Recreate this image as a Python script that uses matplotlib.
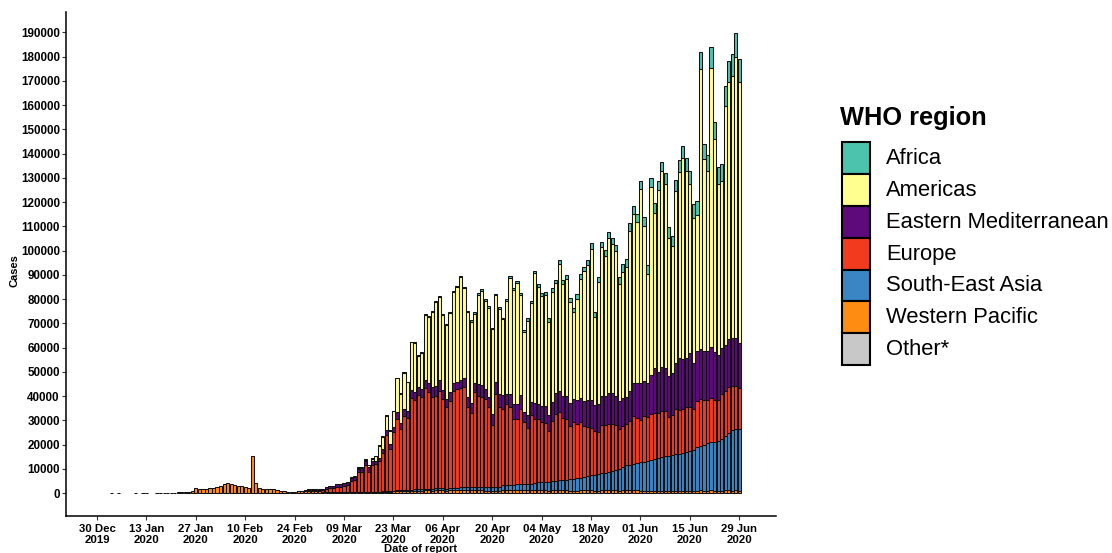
import numpy as np
import pandas as pd
import matplotlib
matplotlib.use("Agg")
import matplotlib.pyplot as plt
import matplotlib.dates as mdates
from matplotlib.patches import Rectangle

plt.rcParams['font.family'] = ['Liberation Sans', 'DejaVu Sans']

# ---------------- data: daily reported cases, 31 Dec 2019 .. 29 Jun 2020 ----------------
start_date = "2019-12-31"
n_days = 182

other_feb = [10, 0, 60, 0, 40, 0, 40, 40, 70, 90, 0, 80, 0, 80, 15, 50]
other = [0]*37 + other_feb + [0]*(182 - 37 - 16)

western_pacific = [
    0, 0, 0, 40, 0, 40, 0, 0, 0, 0,
    40, 0, 40, 40, 0, 0, 20, 20, 60, 80,
    150, 150, 260, 300, 400, 500, 700, 1900, 1500, 1600,
    1800, 1900, 2200, 2600, 3000, 3800, 4000, 3600, 3400, 2700,
    2900, 2600, 2200, 15200, 4100, 2200, 1800, 1800, 1700, 1600,
    1000, 1000, 1000, 500, 500, 500, 700, 800, 900, 1000,
    1000, 900, 700, 500, 600, 500, 400, 400, 300, 300,
    300, 300, 300, 300, 300, 400, 300, 400, 400, 500,
    500, 600, 600, 700, 800, 800, 900, 900, 1000, 1000,
    1000, 1000, 1100, 1100, 1000, 1100, 1200, 1200, 1000, 1100,
    1300, 1200, 1300, 1400, 1200, 1100, 1200, 1200, 1100, 1000,
    900, 800, 900, 800, 1300, 1300, 1300, 1200, 1200, 1200,
    1100, 1100, 1100, 1200, 1200, 1100, 1100, 1000, 1100, 1100,
    1200, 1100, 1100, 1000, 1000, 1000, 1100, 1100, 1100, 1100,
    1000, 1000, 1100, 1100, 1100, 1100, 1100, 1000, 1100, 1100,
    1100, 1100, 1100, 1000, 900, 900, 1000, 1000, 1000, 1000,
    1000, 900, 900, 1000, 1000, 1000, 1000, 1000, 900, 900,
    1100, 1000, 1000, 1100, 1000, 1000, 1000, 1100, 1100, 1000, 1100, 1000,
]

south_east_asia = [0]*76 + [
    100, 100, 100, 100, 200, 200, 200, 300, 300, 300, 400, 400, 400, 500,
    500, 600, 600, 700, 700, 800, 800, 900, 800, 900,
    1000, 1100, 1200, 1200, 1300, 1300, 1400, 1400, 1500, 1600,
    1600, 1700, 1800, 1900, 2000, 2100, 2200, 2300, 2400, 2500,
    2500, 2600, 2800, 3000, 3200, 3400, 3500, 3600, 3800, 4000,
    4200, 4300, 4500, 4700, 4900, 5100, 5300, 5500, 5800, 6200,
    6500, 6800, 7000, 7300, 7500, 8000, 8500, 9000, 9500, 10500,
    10500, 11000, 11500, 11800, 12000, 12300, 12600, 13000, 13500, 14000,
    14200, 14500, 14800, 15000, 15300, 15500, 15800, 16200, 16800, 18000,
    18500, 19000, 19500, 20000, 20000, 20500, 21500, 22500, 23500, 25000, 25500, 25500,
]

europe = [0]*56 + [
    100, 150, 250, 300, 400, 500, 600, 600, 1200, 1400, 1600, 2100, 2100, 2600,
    3000, 4800, 5000, 8300, 8500, 11000, 8500, 11000, 11300, 12500,
    16000, 23200, 17500, 24000, 29500, 25500, 30500, 29500, 38000, 37000,
    39000, 38000, 41500, 40000, 38000, 38000, 40000, 36500, 33500, 36000,
    40000, 40500, 41000, 41000, 33000, 30500, 39000, 37500, 37000, 36000,
    33000, 25500, 38000, 32800, 31200, 33300, 31800, 27000, 26900, 30800,
    25600, 23000, 28300, 26500, 26000, 25000, 24500, 21000, 25000, 27500,
    28000, 25500, 25000, 22000, 23500, 22500, 23000, 21000, 20500, 19500,
    18000, 17500, 20000, 19500, 20000, 19500, 18500, 16500, 17000, 17000,
    18000, 19500, 18500, 17500, 19000, 18000, 19000, 19000, 18500, 19000,
    18500, 16000, 16500, 18500, 18000, 18000, 18500, 18500, 17000, 19000,
    19000, 18500, 18000, 18000, 17500, 17000, 18500, 18500, 19000, 18000, 17500, 17000,
]

eastern_mediterranean = [0]*56 + [
    50, 100, 150, 200, 250, 300, 400, 500, 800, 900, 1000, 1100, 1200, 1100,
    1200, 1300, 1400, 1400, 1500, 1700, 1800, 1700, 1600, 1500,
    1300, 2000, 1800, 2200, 2800, 2500, 3000, 2900, 3000, 3300,
    3400, 3500, 3600, 3800, 4000, 4200, 4500, 3800, 3600, 3500,
    3200, 3200, 3300, 3800, 4000, 4200, 4000, 5000, 5000, 4500,
    4000, 4600, 5100, 5500, 6000, 4100, 5500, 6200, 6300, 6000,
    4100, 5600, 5200, 6500, 6200, 6500, 7000, 6800, 7500, 8800,
    8500, 9000, 9500, 9500, 9600, 9800, 10000, 10500, 11000, 11500,
    11000, 11500, 12000, 12000, 12500, 12500, 12000, 11500, 11500, 11000,
    12500, 14000, 14500, 15000, 14500, 14000, 16000, 18500, 17000, 18000,
    18000, 17000, 17500, 19000, 21500, 21000, 20500, 22000, 19000, 20500,
    21000, 20000, 20000, 21000, 19500, 18500, 19000, 19000, 20000, 20000, 20000, 18500,
]

americas = [0]*65 + [
    100, 100, 100, 100, 200,
    200, 300, 300, 500, 500, 700, 700, 1000, 1700, 5000,
    5300, 5800, 5700, 6500, 13900, 11900, 14900, 12000, 19800, 20200,
    12600, 14600, 26800, 27000, 30900, 34900, 34400, 31200, 30500, 32600,
    37300, 39000, 42300, 37100, 35000, 33600, 28400, 36700, 38800, 36300,
    36900, 35000, 35700, 35000, 31200, 38300, 47900, 47200, 49800, 41000,
    33100, 38700, 40800, 53400, 48300, 45200, 45600, 38300, 45700, 45100,
    52600, 46400, 48000, 41400, 35700, 41800, 48900, 53300, 55600, 62500,
    36000, 50200, 61200, 57800, 63900, 61500, 59600, 48400, 52200, 53700,
    66100, 69300, 66200, 79900, 63700, 45100, 77500, 64200, 74800, 80700,
    75900, 56900, 52000, 71000, 76700, 82600, 77000, 69800, 59800, 56300,
    115400, 79100, 74500, 115000, 88100, 70600, 68500, 98700, 106100, 108100, 115800, 107500,
]

africa = [0]*73 + [
    100, 0, 100, 100, 100, 100, 200,
    200, 200, 200, 300, 300, 300, 300, 300, 300, 300,
    300, 300, 400, 400, 400, 400, 400, 400, 400, 500,
    500, 500, 500, 500, 500, 500, 600, 600, 600, 600,
    600, 600, 700, 700, 700, 800, 800, 800, 900, 900,
    900, 1000, 1000, 1100, 1200, 1200, 1300, 1300, 1400, 1500,
    1600, 1600, 1700, 1700, 1800, 1800, 1900, 2000, 2100, 2200,
    2200, 2300, 2400, 2500, 2600, 2700, 2800, 2900, 3000, 3100,
    3200, 3300, 3400, 3500, 3600, 3600, 3700, 3800, 3900, 4000,
    4200, 4300, 4400, 4600, 4800, 5000, 5200, 5400, 5600, 5800,
    6900, 6200, 6400, 8900, 7000, 7000, 7200, 8000, 8500, 9000, 10000, 9600,
]

regions = ["Africa", "Americas", "Eastern Mediterranean", "Europe",
           "South-East Asia", "Western Pacific", "Other*"]
colors = {"Africa": "#4CC3AD", "Americas": "#FFFF8F", "Eastern Mediterranean": "#5E0A7C",
          "Europe": "#F23A1E", "South-East Asia": "#3A86C4", "Western Pacific": "#FF8C12",
          "Other*": "#C8C8C8"}
series = {"Africa": africa, "Americas": americas, "Eastern Mediterranean": eastern_mediterranean,
          "Europe": europe, "South-East Asia": south_east_asia, "Western Pacific": western_pacific,
          "Other*": other}

tick_dates = pd.date_range("2019-12-30", periods=14, freq="14D")
tick_labels = [f"{d:%d %b}\n{d:%Y}" for d in tick_dates]
y_ticks = list(range(0, 190001, 10000))

# ---------------- figure ----------------
W, H = 1112, 553
fig = plt.figure(figsize=(W / 100, H / 100), dpi=100)
ax = fig.add_axes([66 / W, (H - 516) / H, 710 / W, 504 / H])

dates = pd.date_range(start_date, periods=n_days, freq="D")
bottom = np.zeros(n_days)
for name in reversed(regions):  # stack: Other at bottom, Africa on top
    v = np.zeros(n_days)
    vals = np.asarray(series[name], dtype=float)[:n_days]
    v[:len(vals)] = vals
    m = v > 0
    ax.bar(dates[m], v[m], bottom=bottom[m], width=0.9, color=colors[name],
           edgecolor="#111111", linewidth=0.75, zorder=2)
    bottom += v

x0 = mdates.date2num(pd.Timestamp("2019-12-30"))
ax.set_xlim(x0 - 8.8, x0 + 192.4)
ax.set_ylim(-9450, 198400)

ax.set_xticks(tick_dates)
ax.set_xticklabels(tick_labels, fontsize=8.2, fontweight="bold", linespacing=1.1)
ax.set_yticks(y_ticks)
ax.set_yticklabels([str(t) for t in y_ticks], fontsize=8.4, fontweight="bold")
ax.tick_params(axis="both", direction="out", length=3, width=0.8, color="#333333")
ax.tick_params(axis="y", pad=1.5)
ax.tick_params(axis="x", pad=3)

for s in ["top", "right"]:
    ax.spines[s].set_visible(False)
for s in ["left", "bottom"]:
    ax.spines[s].set_linewidth(1.1)
    ax.spines[s].set_color("black")

fig.text(14 / W, 1 - 271 / H, "Cases", rotation=90, ha="center", va="center",
         fontsize=8, fontweight="bold")
fig.text(421 / W, 1 - 549.5 / H, "Date of report", ha="center", va="center",
         fontsize=8, fontweight="bold")

# ---------------- legend (drawn in pixel coordinates) ----------------
lax = fig.add_axes([0, 0, 1, 1])
lax.set_xlim(0, W)
lax.set_ylim(H, 0)
lax.axis("off")
lax.text(840, 118, "WHO region", fontsize=18.3, fontweight="bold", ha="left", va="center")
row_h = 31.8
top0 = 142.3
for i, name in enumerate(regions):
    y = top0 + i * row_h
    lax.add_patch(Rectangle((841.5, y), 28.5, row_h, facecolor=colors[name],
                            edgecolor="black", linewidth=1.5))
    lax.text(886, y + row_h / 2 + 0.5, name, fontsize=15.8, ha="left", va="center")

fig.savefig("out.png", dpi=100)
